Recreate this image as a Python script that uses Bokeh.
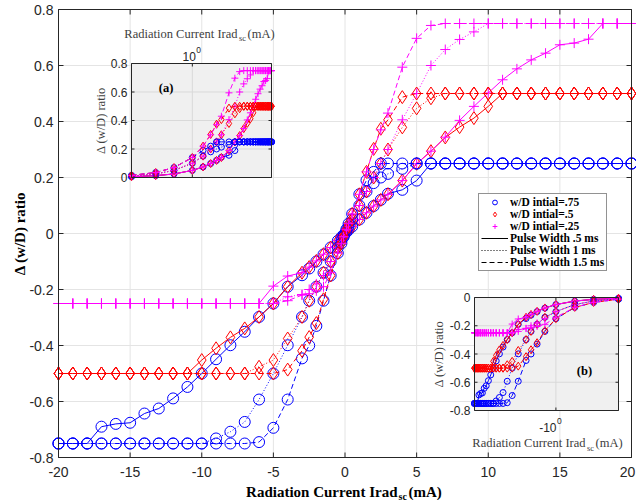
import math
from bokeh.plotting import figure
from bokeh.plotting.glyph_api import GlyphAPI
from bokeh.models import (Range1d, LogScale, LinearScale, CoordinateMapping,
                          Legend, LegendItem, Label)
from bokeh.core.properties import value
from bokeh.embed import file_html
from bokeh.resources import INLINE

# ---------------- data ----------------
# radiation current (mA)
current = [-20, -19, -18, -17, -16, -15, -14, -13, -12, -11, -10, -9, -8, -7, -6, -5, -4, -3,
           -2.5, -2, -1.5, -1, -0.5, -0.25, -0.1,
           0.1, 0.25, 0.5, 1, 1.5, 2, 2.5,
           3, 4, 5, 6, 7, 8, 9, 10, 11, 12, 13, 14, 15, 16, 17, 18, 19, 20]

# w/D initial = .75
blue_05 = [-0.75, -0.75, -0.75, -0.69, -0.68, -0.676, -0.643, -0.625, -0.589, -0.548, -0.50, -0.449,
           -0.399, -0.351, -0.298, -0.25, -0.19, -0.149,
           -0.125, -0.10, -0.075, -0.05, -0.026, -0.013, -0.005,
           0.005, 0.013, 0.025, 0.05, 0.074, 0.098, 0.12,
           0.142, 0.156, 0.189, 0.25, 0.25, 0.25, 0.25, 0.25, 0.25, 0.25, 0.25, 0.25, 0.25, 0.25,
           0.25, 0.25, 0.25, 0.25]
blue_10 = [-0.75, -0.75, -0.75, -0.75, -0.75, -0.75, -0.75, -0.75, -0.75, -0.75, -0.75, -0.732,
           -0.708, -0.673, -0.593, -0.50, -0.399, -0.298,
           -0.24, -0.19, -0.14, -0.10, -0.05, -0.025, -0.01,
           0.01, 0.025, 0.05, 0.10, 0.15, 0.18, 0.20,
           0.213, 0.231, 0.25, 0.25, 0.25, 0.25, 0.25, 0.25, 0.25, 0.25, 0.25, 0.25, 0.25, 0.25,
           0.25, 0.25, 0.25, 0.25]
blue_15 = [-0.75, -0.75, -0.75, -0.75, -0.75, -0.75, -0.75, -0.75, -0.75, -0.75, -0.75, -0.75,
           -0.75, -0.75, -0.745, -0.694, -0.593, -0.446,
           -0.40, -0.33, -0.24, -0.15, -0.07, -0.035, -0.012,
           0.015, 0.035, 0.07, 0.14, 0.19, 0.22, 0.25,
           0.25, 0.25, 0.25, 0.25, 0.25, 0.25, 0.25, 0.25, 0.25, 0.25, 0.25, 0.25, 0.25, 0.25,
           0.25, 0.25, 0.25, 0.25]

# w/D initial = .5
red_05 = [-0.5, -0.5, -0.5, -0.5, -0.5, -0.5, -0.5, -0.5, -0.5, -0.5, -0.452, -0.41,
          -0.371, -0.339, -0.298, -0.25, -0.19, -0.14,
          -0.12, -0.098, -0.074, -0.05, -0.025, -0.013, -0.005,
          0.005, 0.013, 0.025, 0.05, 0.074, 0.098, 0.12,
          0.14, 0.189, 0.249, 0.294, 0.343, 0.38, 0.412, 0.454, 0.5, 0.5, 0.5, 0.5, 0.5, 0.5,
          0.5, 0.5, 0.5, 0.5]
red_10 = [-0.5, -0.5, -0.5, -0.5, -0.5, -0.5, -0.5, -0.5, -0.5, -0.5, -0.5, -0.5,
          -0.5, -0.5, -0.476, -0.452, -0.375, -0.298,
          -0.24, -0.19, -0.14, -0.10, -0.05, -0.025, -0.01,
          0.01, 0.025, 0.05, 0.10, 0.15, 0.20, 0.25,
          0.30, 0.379, 0.447, 0.483, 0.5, 0.5, 0.5, 0.5, 0.5, 0.5, 0.5, 0.5, 0.5, 0.5,
          0.5, 0.5, 0.5, 0.5]
red_15 = [-0.5, -0.5, -0.5, -0.5, -0.5, -0.5, -0.5, -0.5, -0.5, -0.5, -0.5, -0.5,
          -0.5, -0.5, -0.5, -0.5, -0.486, -0.419,
          -0.37, -0.32, -0.235, -0.15, -0.07, -0.035, -0.012,
          0.015, 0.035, 0.07, 0.14, 0.22, 0.302, 0.374,
          0.406, 0.487, 0.5, 0.5, 0.5, 0.5, 0.5, 0.5, 0.5, 0.5, 0.5, 0.5, 0.5, 0.5,
          0.5, 0.5, 0.5, 0.5]

# w/D initial = .25
mag_05 = [-0.25, -0.25, -0.25, -0.25, -0.25, -0.25, -0.25, -0.25, -0.25, -0.25, -0.25, -0.25,
          -0.25, -0.25, -0.25, -0.188, -0.152, -0.14,
          -0.12, -0.098, -0.074, -0.05, -0.025, -0.013, -0.005,
          0.005, 0.013, 0.025, 0.05, 0.074, 0.098, 0.12,
          0.14, 0.189, 0.249, 0.294, 0.344, 0.404, 0.454, 0.502, 0.549, 0.588, 0.62, 0.644, 0.674, 0.68,
          0.694, 0.75, 0.75, 0.75]
mag_10 = [-0.25, -0.25, -0.25, -0.25, -0.25, -0.25, -0.25, -0.25, -0.25, -0.25, -0.25, -0.25,
          -0.25, -0.25, -0.25, -0.25, -0.226, -0.218,
          -0.20, -0.18, -0.15, -0.10, -0.05, -0.025, -0.01,
          0.01, 0.025, 0.05, 0.10, 0.15, 0.20, 0.25,
          0.30, 0.406, 0.50, 0.60, 0.657, 0.693, 0.72, 0.75, 0.75, 0.75, 0.75, 0.75, 0.75, 0.75,
          0.75, 0.75, 0.75, 0.75]
mag_15 = [-0.25, -0.25, -0.25, -0.25, -0.25, -0.25, -0.25, -0.25, -0.25, -0.25, -0.25, -0.25,
          -0.25, -0.25, -0.25, -0.25, -0.24, -0.22,
          -0.215, -0.205, -0.19, -0.14, -0.07, -0.035, -0.012,
          0.015, 0.035, 0.07, 0.14, 0.22, 0.30, 0.37,
          0.43, 0.594, 0.697, 0.743, 0.75, 0.75, 0.75, 0.75, 0.75, 0.75, 0.75, 0.75, 0.75, 0.75,
          0.75, 0.75, 0.75, 0.75]

x_ticks = [-20, -15, -10, -5, 0, 5, 10, 15, 20]
x_tick_labels = ["-20", "-15", "-10", "-5", "0", "5", "10", "15", "20"]
y_ticks = [-0.8, -0.6, -0.4, -0.2, 0, 0.2, 0.4, 0.6, 0.8]
y_tick_labels = ["-0.8", "-0.6", "-0.4", "-0.2", "0", "0.2", "0.4", "0.6", "0.8"]

inset_a_yticks = [0, 0.2, 0.4, 0.6, 0.8]
inset_a_ylabels = ["0", "0.2", "0.4", "0.6", "0.8"]
inset_b_yticks = [-0.8, -0.6, -0.4, -0.2, 0]
inset_b_ylabels = ["-0.8", "-0.6", "-0.4", "-0.2", "0"]
inset_xticks = [1]

legend_labels = ["w/D intial=.75", "w/D intial=.5", "w/D intial=.25",
                 "Pulse Width .5 ms", "Pulse Width 1 ms", "Pulse Width 1.5 ms"]

# ---------------- style ----------------
BLUE, RED, MAGENTA = "#0000ff", "#ff0000", "#ff00ff"
INK = "#262626"
SANS, SERIF = "Liberation Sans", "Liberation Serif"
DOT, DASH = "1 2", "5 3"
MAIN_SIZE = {"circle": 11, "diamond": 13, "cross": 10}
INSET_SIZE = {"circle": 6, "diamond": 8, "cross": 7}

series = [
    (blue_05, BLUE, "circle", "solid"), (red_05, RED, "diamond", "solid"), (mag_05, MAGENTA, "cross", "solid"),
    (blue_10, BLUE, "circle", DOT), (red_10, RED, "diamond", DOT), (mag_10, MAGENTA, "cross", DOT),
    (blue_15, BLUE, "circle", DASH), (red_15, RED, "diamond", DASH), (mag_15, MAGENTA, "cross", DASH),
]

# ---------------- geometry (pixels) ----------------
# The drawing frame covers the whole canvas; the axes box is a sub-area of it,
# so the axes, their labels and the subscripted titles are all drawn inside.
W, H = 636, 500
L, R, T, B = 58, 631, 9, 457            # axes box
X_LIM, Y_LIM = (-20, 20), (-0.8, 0.8)
PX_X = (X_LIM[1] - X_LIM[0]) / (R - L)  # data units per pixel
PX_Y = (Y_LIM[1] - Y_LIM[0]) / (B - T)
TICK_MAIN = 5


def data_x(px):
    return X_LIM[0] + (px - L) * PX_X


def data_y(py):
    return Y_LIM[1] - (py - T) * PX_Y


def sx(px):
    return px


def sy(py):
    return H - py


p = figure(width=W, height=H, title=None,
           x_range=Range1d(data_x(0), data_x(W)), y_range=Range1d(data_y(H), data_y(0)),
           x_axis_location=None, y_axis_location=None,
           output_backend="svg", toolbar_location=None,
           min_border_left=0, min_border_right=0, min_border_top=0, min_border_bottom=0)
p.background_fill_color = "white"
p.border_fill_color = "white"
p.outline_line_color = None
p.grid.visible = False

nx, ny = len(x_ticks), len(y_ticks)
GRID = "#e4e4e4"
# grid
p.segment(x0=x_ticks, x1=x_ticks, y0=[Y_LIM[0]] * nx, y1=[Y_LIM[1]] * nx, line_color=GRID, line_width=1)
p.segment(x0=[X_LIM[0]] * ny, x1=[X_LIM[1]] * ny, y0=y_ticks, y1=y_ticks, line_color=GRID, line_width=1)

# ---------------- main curves ----------------
for vals, color, marker, dash in series:
    p.line(current, vals, line_color=color, line_dash=dash, line_width=1)
    p.scatter(current, vals, marker=marker, size=MAIN_SIZE[marker], line_color=color,
              fill_color=None, line_width=1)

# axes box with inward ticks on all four sides
p.quad(left=[X_LIM[0]], right=[X_LIM[1]], bottom=[Y_LIM[0]], top=[Y_LIM[1]],
       fill_color=None, line_color=INK, line_width=1)
p.segment(x0=x_ticks, x1=x_ticks, y0=[Y_LIM[0]] * nx, y1=[Y_LIM[0] + TICK_MAIN * PX_Y] * nx,
          line_color=INK, line_width=1)
p.segment(x0=x_ticks, x1=x_ticks, y0=[Y_LIM[1]] * nx, y1=[Y_LIM[1] - TICK_MAIN * PX_Y] * nx,
          line_color=INK, line_width=1)
p.segment(x0=[X_LIM[0]] * ny, x1=[X_LIM[0] + TICK_MAIN * PX_X] * ny, y0=y_ticks, y1=y_ticks,
          line_color=INK, line_width=1)
p.segment(x0=[X_LIM[1]] * ny, x1=[X_LIM[1] - TICK_MAIN * PX_X] * ny, y0=y_ticks, y1=y_ticks,
          line_color=INK, line_width=1)

# tick labels (the last x label is nudged so it stays on the canvas)
x_label_shift = [0] * (nx - 1) + [-4]
p.text(x=x_ticks, y=[Y_LIM[0]] * nx, text=x_tick_labels, x_offset=x_label_shift, y_offset=14,
       text_align=value("center"), text_baseline=value("middle"),
       text_font=value(SANS), text_font_size=value("14px"), text_color=INK)
p.text(x=[X_LIM[0]] * ny, y=y_ticks, text=y_tick_labels, x_offset=-5,
       text_align=value("right"), text_baseline=value("middle"),
       text_font=value(SANS), text_font_size=value("14px"), text_color=INK)

# axis titles
label_kw = dict(x_units="screen", y_units="screen", text_font=SERIF, text_font_style="bold",
                text_color="black", text_baseline="alphabetic")
p.add_layout(Label(x=sx(397), y=sy(491), text="Radiation Current Irad", text_align="right",
                   text_font_size="15px", **label_kw))
p.add_layout(Label(x=sx(398), y=sy(495.5), text="sc", text_align="left", text_font_size="10px", **label_kw))
p.add_layout(Label(x=sx(408), y=sy(491), text="(mA)", text_align="left", text_font_size="15px", **label_kw))
p.add_layout(Label(x=sx(19), y=sy(233), text="Δ (w/D) ratio", angle=math.pi / 2,
                   x_units="screen", y_units="screen", text_font=SERIF, text_font_style="bold",
                   text_font_size="15px", text_color="black", text_align="center", text_baseline="middle"))

# ---------------- insets ----------------
INSET_BG = "#f0f0f0"
INSET_GRID = "#d9d9d9"
INSET_TEXT = "#404040"
TICK = 3


def inset(box, x_src, y_src, sign, yticks, ylabels):
    left, top, right, bottom = box
    mapping = CoordinateMapping(x_source=Range1d(*x_src), y_source=Range1d(*y_src),
                                x_scale=LogScale(), y_scale=LinearScale(),
                                x_target=Range1d(data_x(left), data_x(right)),
                                y_target=Range1d(data_y(bottom), data_y(top)))
    sub = GlyphAPI(p, mapping)
    x_left, x_right = x_src
    y_lo, y_hi = y_src
    sub.quad(left=[x_left], right=[x_right], bottom=[y_lo], top=[y_hi],
             fill_color=INSET_BG, line_color=None)
    n, m = len(inset_xticks), len(yticks)
    sub.segment(x0=inset_xticks, x1=inset_xticks, y0=[y_lo] * n, y1=[y_hi] * n,
                line_color=INSET_GRID, line_width=1)
    sub.segment(x0=[x_left] * m, x1=[x_right] * m, y0=yticks, y1=yticks,
                line_color=INSET_GRID, line_width=1)

    idx = [i for i, c in enumerate(current) if c * sign > 0]
    xs = [abs(current[i]) for i in idx]
    for vals, color, marker, dash in series:
        ys = [vals[i] for i in idx]
        sub.line(xs, ys, line_color=color, line_dash=dash, line_width=1)
        sub.scatter(xs, ys, marker=marker, size=INSET_SIZE[marker], line_color=color,
                    fill_color=None, line_width=1)

    # box and inward ticks
    sub.quad(left=[x_left], right=[x_right], bottom=[y_lo], top=[y_hi],
             fill_color=None, line_color=INK, line_width=1)
    t = TICK / (right - left)
    xl_in = x_left * (x_right / x_left) ** t
    xr_in = x_right * (x_left / x_right) ** t
    dy = (y_hi - y_lo) * TICK / (bottom - top)
    sub.segment(x0=[x_left] * m, x1=[xl_in] * m, y0=yticks, y1=yticks, line_color=INK)
    sub.segment(x0=[x_right] * m, x1=[xr_in] * m, y0=yticks, y1=yticks, line_color=INK)
    sub.segment(x0=inset_xticks, x1=inset_xticks, y0=[y_hi] * n, y1=[y_hi - dy] * n, line_color=INK)
    sub.segment(x0=inset_xticks, x1=inset_xticks, y0=[y_lo] * n, y1=[y_lo + dy] * n, line_color=INK)
    sub.text(x=[x_left] * m, y=yticks, text=ylabels, x_offset=-4,
             text_align=value("right"), text_baseline=value("middle"),
             text_font=value(SANS), text_font_size=value("12px"), text_color=INK)
    return sub


# (a) positive currents
a_box = (131, 63, 271, 177)
a_x, a_y = (0.1, 20), (0, 0.8)
sub_a = inset(a_box, a_x, a_y, +1, inset_a_yticks, inset_a_ylabels)
sub_a.text(x=inset_xticks, y=[a_y[1]], text=["10"], x_offset=3.5, y_offset=-7,
           text_align=value("right"), text_baseline=value("alphabetic"),
           text_font=value(SANS), text_font_size=value("12px"), text_color=INK)
sub_a.text(x=inset_xticks, y=[a_y[1]], text=["0"], x_offset=4, y_offset=-14,
           text_align=value("left"), text_baseline=value("alphabetic"),
           text_font=value(SANS), text_font_size=value("8.5px"), text_color=INK)

# (b) negative currents, magnitude decreasing to the right
b_box = (474, 297, 618, 410)
b_x, b_y = (20, 0.1), (-0.8, 0)
sub_b = inset(b_box, b_x, b_y, -1, inset_b_yticks, inset_b_ylabels)
sub_b.text(x=inset_xticks, y=[b_y[0]], text=["-10"], x_offset=0.6, y_offset=16.7,
           text_align=value("right"), text_baseline=value("alphabetic"),
           text_font=value(SANS), text_font_size=value("12px"), text_color=INK)
sub_b.text(x=inset_xticks, y=[b_y[0]], text=["0"], x_offset=1.1, y_offset=10,
           text_align=value("left"), text_baseline=value("alphabetic"),
           text_font=value(SANS), text_font_size=value("8.5px"), text_color=INK)

ins_kw = dict(x_units="screen", y_units="screen", text_font=SERIF, text_color=INSET_TEXT,
              text_baseline="alphabetic")
for right_px, base_py in ((237, 33), (585, 442.7)):
    p.add_layout(Label(x=sx(right_px), y=sy(base_py), text="Radiation Current Irad",
                       text_align="right", text_font_size="12.5px", **ins_kw))
    p.add_layout(Label(x=sx(right_px + 1.5), y=sy(base_py + 4.5), text="sc",
                       text_align="left", text_font_size="8.5px", **ins_kw))
    p.add_layout(Label(x=sx(right_px + 10), y=sy(base_py), text="(mA)",
                       text_align="left", text_font_size="12.5px", **ins_kw))

for cx, cy in ((100, 120), (438.5, 353.5)):
    p.add_layout(Label(x=sx(cx), y=sy(cy), text="Δ (w/D) ratio", angle=math.pi / 2,
                       x_units="screen", y_units="screen", text_font=SERIF, text_color=INSET_TEXT,
                       text_font_size="12.5px", text_align="center", text_baseline="middle"))

for txt, cx, cy in (("(a)", 165.5, 87.7), ("(b)", 584, 370)):
    p.add_layout(Label(x=sx(cx), y=sy(cy), text=txt, x_units="screen", y_units="screen",
                       text_font=SERIF, text_font_style="bold", text_font_size="12.5px",
                       text_color="black", text_align="center", text_baseline="middle"))

# ---------------- legend ----------------
# legend-only renderers hold a single NaN sample so nothing is drawn in the frame
NAN = [float("nan")]
items = []
for (color, marker), lab in zip(((BLUE, "circle"), (RED, "diamond"), (MAGENTA, "cross")), legend_labels[:3]):
    r = p.scatter(x=NAN, y=NAN, marker=marker, size=MAIN_SIZE[marker] - 1, line_color=color, fill_color=None)
    items.append(LegendItem(label=lab, renderers=[r]))
for dash, lab in zip(("solid", DOT, DASH), legend_labels[3:]):
    r = p.line(x=NAN, y=NAN, line_color="black", line_dash=dash, line_width=1)
    items.append(LegendItem(label=lab, renderers=[r]))

legend = Legend(items=items, location=(sx(478), sy(271)), orientation="vertical",
                border_line_color=INK, border_line_width=1,
                background_fill_color="white", background_fill_alpha=1,
                label_text_font=SERIF, label_text_font_style="bold", label_text_font_size="11.5px",
                label_text_color="black", label_height=12, glyph_height=12, glyph_width=27,
                label_standoff=2, spacing=0, padding=2, margin=0)
p.add_layout(legend)

open("out.html", "w").write(file_html(p, INLINE))
